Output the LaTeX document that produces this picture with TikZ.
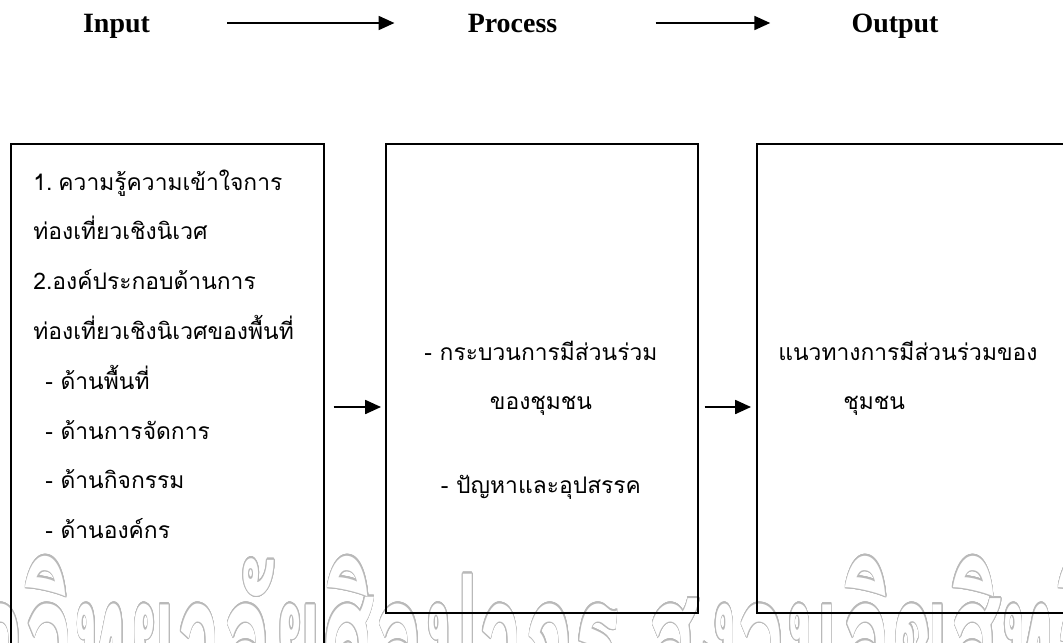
\documentclass[tikz,border=0pt]{standalone}
\usepackage{fontspec}
\setmainfont{Liberation Serif}
\newfontfamily\thai[Script=Thai]{Loma}
\usepackage{contour}
\usetikzlibrary{arrows.meta}
\contourlength{0.7pt}
\contournumber{24}
\definecolor{wmgray}{RGB}{185,185,185}

\begin{document}
\begin{tikzpicture}[x=0.02cm,y=-0.02cm]
   \tikzstyle{head}=[inner sep=0, text height=0.4cm, text depth=0.04cm, font=\fontsize{15.9}{18}\selectfont\bfseries]
   \tikzstyle{box}=[draw, line width=1pt, inner sep=0, anchor=north west]
   \tikzstyle{txt}=[inner sep=0, anchor=base west, text width=6cm, align=left, font=\thai\fontsize{13}{28.35}\selectfont]
   \tikzstyle{link}=[line width=0.9pt, -{Triangle[length=9pt,width=8pt]}]

\useasboundingbox (0,0) rectangle (1063,643);

% watermark
\coordinate (wmpos) at (-130,707);
\node[anchor=base west, inner sep=0, xscale=0.45, transform shape, font=\thai\fontsize{105}{110}\selectfont\bfseries] (wm) at (wmpos) {\contour{wmgray}{\color{white}มหาวิทยาลัยศิลปากร สงวนลิขสิทธิ์}};

% heading
\node[head] (in) at (116.5,23) {Input};
\node[head] (proc) at (512.5,23) {Process};
\node[head] (out) at (895,23) {Output};
\draw[link, shorten <=1.54cm, shorten >=1.46cm] (in) -- (proc);
\draw[link, shorten <=1.96cm, shorten >=1.62cm] (proc) -- (out);

% boxes
\node[box, minimum width=6.26cm, minimum height=11.14cm] (b1) at (10,143) {};
\node[box, minimum width=6.24cm, minimum height=9.38cm] (b2) at (385,143) {};
\node[box, minimum width=7.08cm, minimum height=9.38cm] (b3) at (756,143) {};

\node[txt] (t1) at (33,190) {1.\hspace{0.12cm}ความรู้ความเข้าใจการ\\ท่องเที่ยวเชิงนิเวศ\\2.องค์ประกอบด้านการ\\ท่องเที่ยวเชิงนิเวศของพื้นที่\\\hspace*{0.24cm}- ด้านพื้นที่\\\hspace*{0.24cm}- ด้านการจัดการ\\\hspace*{0.24cm}- ด้านกิจกรรม\\\hspace*{0.24cm}- ด้านองค์กร};
\node[txt, anchor=base, align=center] (t2) at (541,360) {- กระบวนการมีส่วนร่วม\\ของชุมชน\\[0.68cm]- ปัญหาและอุปสรรค};
\node[txt] (t3) at (778,360) {แนวทางการมีส่วนร่วมของ\\\hspace*{1.3cm}ชุมชน};

\coordinate (lvl) at (0,407);
\draw[link, shorten <=0.18cm, shorten >=0.08cm] (b1.east |- lvl) -- (b2.west |- lvl);
\draw[link, shorten <=0.12cm, shorten >=0.1cm] (b2.east |- lvl) -- (b3.west |- lvl);

\end{tikzpicture}
\end{document}
